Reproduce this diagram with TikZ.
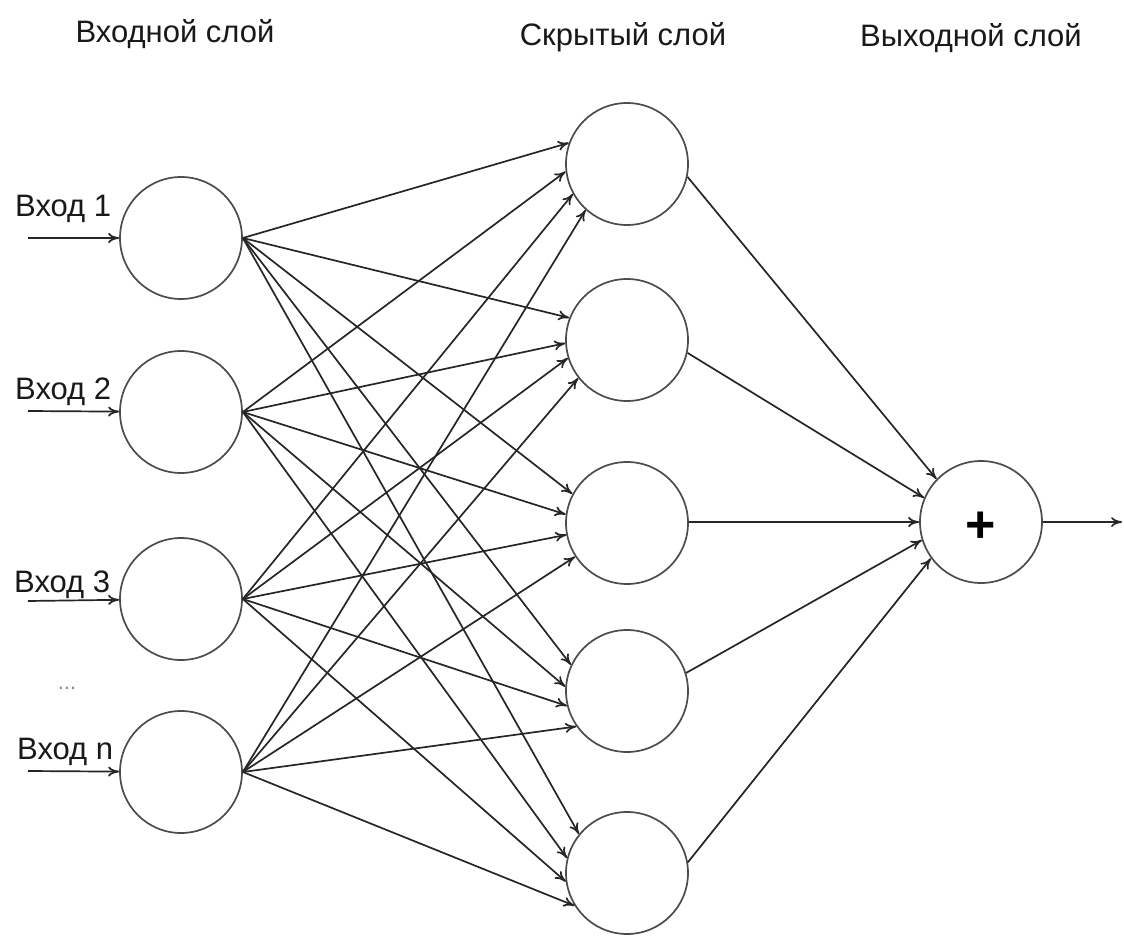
\documentclass[tikz,border=0pt]{standalone}
\usepackage{fontspec}
\setmainfont{Liberation Sans}
\usetikzlibrary{arrows.meta}
\begin{document}
\begin{tikzpicture}[x=1pt,y=-1pt,
  neuron/.style={circle,draw=black!70,line width=1.7pt,minimum size=122pt,inner sep=0pt},
  conn/.style={draw=black!85,line width=1.7pt,-{To[length=11pt,width=10pt]}},
  lbl/.style={font=\fontsize{31}{36}\selectfont,inner sep=0pt,text=black!90},
  plussign/.style={font=\fontsize{52}{52}\bfseries\selectfont,inner sep=0pt}]
\useasboundingbox (0,0) rectangle (1124,936);
\fill[white] (0,0) rectangle (1124,936);
% titles
\node[lbl,anchor=base] (t1) at (175,43) {Входной слой};
\node[lbl,anchor=base] (t2) at (623,46) {Скрытый слой};
\node[lbl,anchor=base] (t3) at (971,47) {Выходной слой};
% input neurons
\node[neuron] (i1) at (181,238) {};
\node[neuron] (i2) at (181,412) {};
\node[neuron] (i3) at (181,599) {};
\node[neuron] (i4) at (181,772) {};
% hidden neurons
\node[neuron] (h1) at (627,164) {};
\node[neuron] (h2) at (627,340) {};
\node[neuron] (h3) at (627,523) {};
\node[neuron] (h4) at (627,691) {};
\node[neuron] (h5) at (627,873) {};
% output neuron
\node[neuron] (o) at (981,522) {};
\node[plussign] (plus) at (981,527) {+};
% input labels
\node[lbl,anchor=base west] (l1) at (15,217) {Вход 1};
\node[lbl,anchor=base west] (l2) at (15,399) {Вход 2};
\node[lbl,anchor=base west] (l3) at (14,592) {Вход 3};
\node[lbl,anchor=base west] (l4) at (17,759) {Вход n};
\node[font=\fontsize{22}{22}\selectfont,text=black!45,inner sep=0pt] (dots) at (67,688) {...};
% input arrows
\coordinate (a1) at (28,238);
\coordinate (a2) at (28,411);
\coordinate (a3) at (28,601);
\coordinate (a4) at (28,771);
\foreach \k in {1,2,3,4} \draw[conn] (a\k) -- (i\k);
% input -> hidden
\draw[conn] (i1.east) -- (h1.160);
\draw[conn] (i2.east) -- (h1.187);
\draw[conn] (i3.east) -- (h1.209);
\draw[conn] (i4.east) -- (h1.228);
\draw[conn] (i1.east) -- (h2.159);
\draw[conn] (i2.east) -- (h2.183);
\draw[conn] (i3.east) -- (h2.197);
\draw[conn] (i4.east) -- (h2.218);
\draw[conn] (i1.east) -- (h3.152);
\draw[conn] (i2.east) -- (h3.172);
\draw[conn] (i3.east) -- (h3.191);
\draw[conn] (i4.east) -- (h3.213);
\draw[conn] (i1.east) -- (h4.155);
\draw[conn] (i2.east) -- (h4.176);
\draw[conn] (i3.east) -- (h4.194);
\draw[conn] (i4.east) -- (h4.215);
\draw[conn] (i1.east) -- (h5.141);
\draw[conn] (i2.east) -- (h5.166);
\draw[conn] (i3.east) -- (h5.188);
\draw[conn] (i4.east) -- (h5.212);
% hidden -> output
\draw[conn] (h1.-12) -- (o.136);
\draw[conn] (h2.-12) -- (o.157);
\draw[conn] (h3.1) -- (o.180);
\draw[conn] (h4.17) -- (o.197);
\draw[conn] (h5.10) -- (o.216);
% output arrow
\coordinate (out) at (1122,522);
\draw[conn] (o.east) -- (out);
\end{tikzpicture}
\end{document}
